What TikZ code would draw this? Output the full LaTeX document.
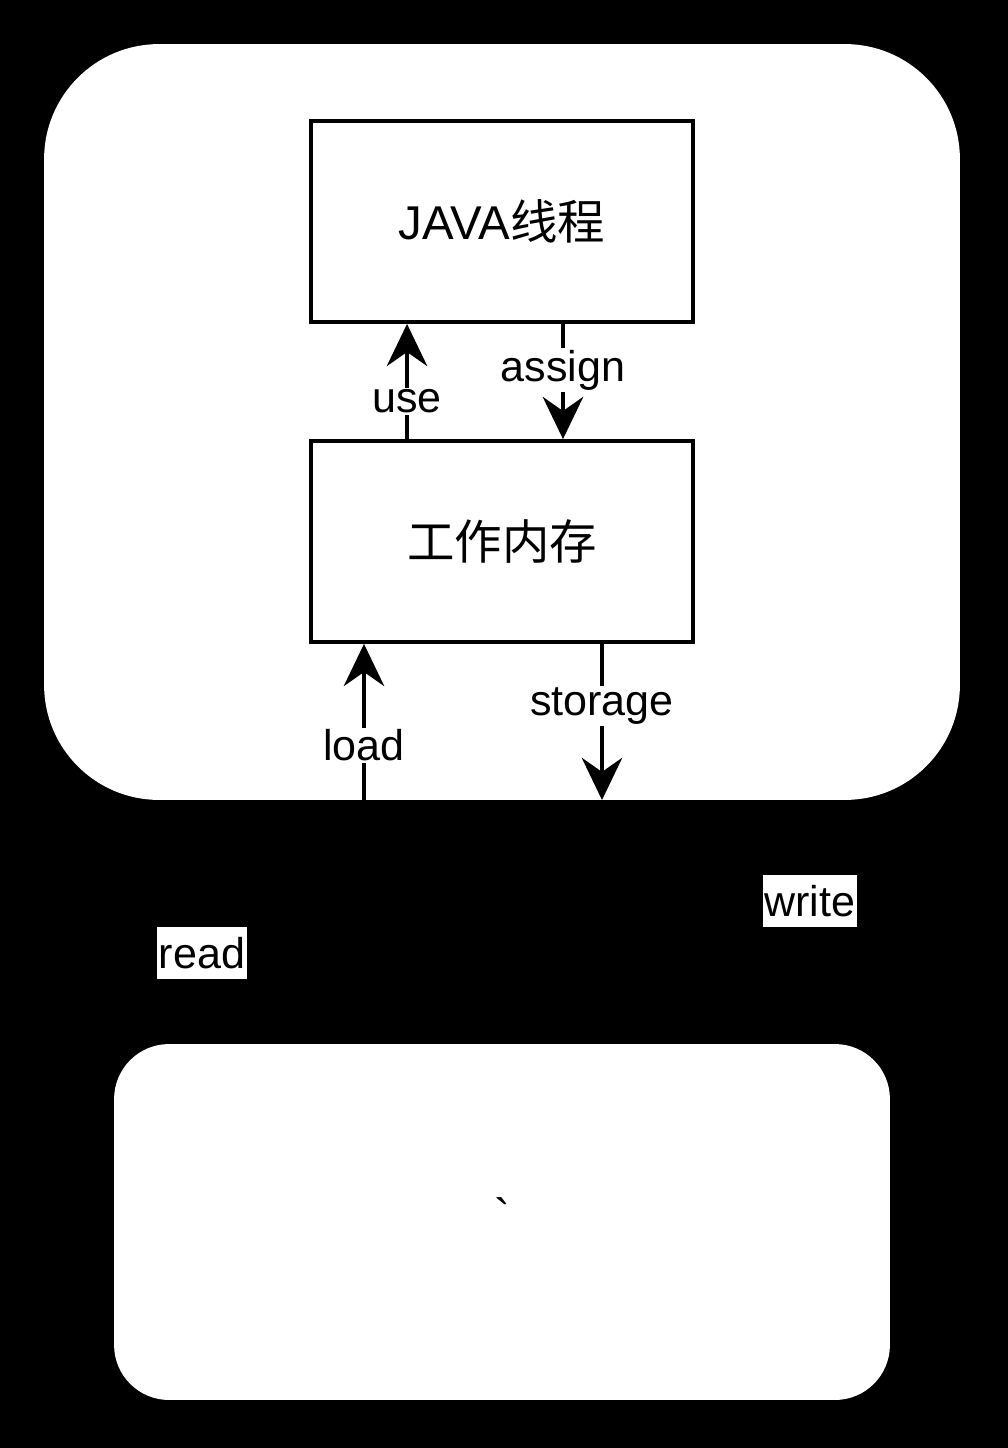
\documentclass[tikz,border=0pt]{standalone}
\usepackage{fontspec}
\setmainfont{Liberation Sans}
\newfontfamily\cjk{Noto Sans CJK SC}
\usetikzlibrary{arrows.meta,positioning}

\tikzset{
  panel/.style={fill=white, draw=none, inner sep=0pt},
  box/.style={draw, fill=white, line width=2.2pt, minimum width=7.64cm, minimum height=4.02cm, font=\fontsize{27}{31}\selectfont},
  lbl/.style={fill=white, inner sep=1pt, font=\fontsize{24.5}{28}\selectfont},
  tag/.style={lbl, minimum height=1.04cm},
  arr/.style={line width=2.2pt, -{Stealth[length=24pt,width=23pt,inset=8pt]}}
}

\begin{document}
\begin{tikzpicture}[x=0.02cm, y=-0.02cm]

  % background
  \fill[black] (0,0) rectangle (1008,1448);

  \begin{scope}[every node/.style={panel}]
    \node[minimum width=18.32cm, minimum height=15.12cm, rounded corners=2.3cm] (jvm) at (502,422) {};
    \node[minimum width=15.52cm, minimum height=7.12cm, rounded corners=1.1cm, font=\fontsize{27}{31}\selectfont] (mem) at (502,1222) {\strut\textasciigrave};
  \end{scope}

  \node[box] (thread) at (502,221.5) {JAVA{\cjk 线程}};
  \node[box] (work)   at (502,541.5) {\cjk 工作内存};

  \coordinate (loadfoot)    at (364,800);
  \coordinate (storagefoot) at (602,800);

  \draw[arr] ([xshift=-1.9cm]work.north) -- node[lbl, pos=.33] {use} ([xshift=-1.9cm]thread.south);
  \draw[arr] ([xshift=1.22cm]thread.south) -- node[lbl, pos=.40] {assign} ([xshift=1.22cm]work.north);
  \draw[arr] (loadfoot) -- node[lbl, pos=.35] {load} (work.south -| loadfoot);
  \draw[arr] (work.south -| storagefoot) -- node[lbl, pos=.40] {storage} (storagefoot);

  \node[tag] (read)  at (202,953) {read};
  \node[tag] (write) at (810,901) {write};

\end{tikzpicture}
\end{document}
